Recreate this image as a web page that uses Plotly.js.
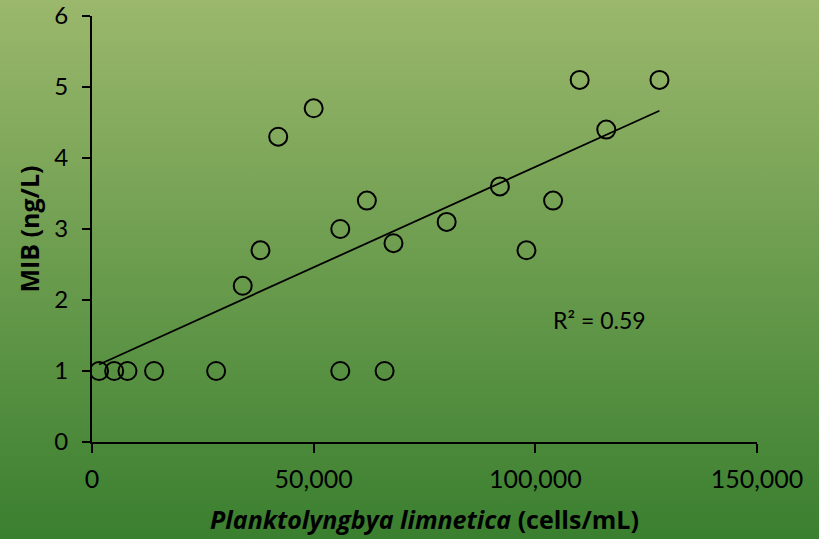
<!DOCTYPE html>
<html>
<head>
<meta charset="utf-8">
<script src="https://cdn.plot.ly/plotly-3.0.1.min.js"></script>
<style>
  html, body { margin: 0; padding: 0; }
  body { width: 819px; height: 539px; background: linear-gradient(to bottom, #9bb86c 0%, #3a7f2f 100%); }
  #chart { width: 819px; height: 539px; }
</style>
</head>
<body>
<div id="chart"></div>
<script>
// Planktolyngbya limnetica (cells/mL)
const cells = [1600, 5000, 8000, 14000, 28000, 34000, 38000, 42000, 50000, 56000, 56000, 62000, 66000, 68000, 80000, 92000, 98000, 104000, 110000, 116000, 128000];
// MIB (ng/L)
const mib = [1, 1, 1, 1, 1, 2.2, 2.7, 4.3, 4.7, 3.0, 1, 3.4, 1, 2.8, 3.1, 3.6, 2.7, 3.4, 5.1, 4.4, 5.1];
const xTickVals = [0, 50000, 100000, 150000];
const xTickText = ['0', '50,000', '100,000', '150,000'];
const yTickVals = [0, 1, 2, 3, 4, 5, 6];
const r2Label = 'R² = 0.59';

// least-squares linear trendline
const n = cells.length;
const mx = cells.reduce((a, b) => a + b, 0) / n;
const my = mib.reduce((a, b) => a + b, 0) / n;
let sxy = 0, sxx = 0;
for (let i = 0; i < n; i++) { sxy += (cells[i] - mx) * (mib[i] - my); sxx += (cells[i] - mx) ** 2; }
const slope = sxy / sxx, intercept = my - slope * mx;
const xMin = Math.min(...cells), xMax = Math.max(...cells);
const trendX = [xMin, xMax];
const trendY = trendX.map(v => intercept + slope * v);

const font = 'Lato, "Open Sans", sans-serif';
const titleFont = '"Open Sans", Lato, sans-serif';

const data = [
  {
    x: trendX, y: trendY, type: 'scatter', mode: 'lines',
    line: { color: '#000', width: 1.8 }, hoverinfo: 'skip', showlegend: false
  },
  {
    x: cells, y: mib, type: 'scatter', mode: 'markers',
    marker: { symbol: 'circle-open', size: 18, color: '#000', line: { color: '#000', width: 2 } },
    showlegend: false
  }
];

const layout = {
  width: 819, height: 539,
  margin: { l: 92, r: 62, t: 16, b: 97 },
  paper_bgcolor: 'rgba(0,0,0,0)',
  plot_bgcolor: 'rgba(0,0,0,0)',
  font: { family: font, color: '#000', size: 24 },
  showlegend: false,
  xaxis: {
    range: [0, 150000], autorange: false,
    tickvals: xTickVals, ticktext: xTickText,
    showgrid: false, zeroline: false,
    showline: true, linecolor: '#000', linewidth: 2,
    ticks: 'outside', ticklen: 9, tickwidth: 2, tickcolor: '#000',
    tickfont: { family: font, size: 25, color: '#000' },
    ticklabelstandoff: 5,
    ticklabeloverflow: 'allow',
    title: { text: '<b><i>Planktolyngbya limnetica</i> (cells/mL)</b>', font: { family: titleFont, size: 25, color: '#000', weight: 'bold' }, standoff: 19 }
  },
  yaxis: {
    range: [0, 6], autorange: false,
    tickvals: yTickVals,
    showgrid: false, zeroline: false,
    showline: true, linecolor: '#000', linewidth: 2,
    ticks: 'outside', ticklen: 8, tickwidth: 2, tickcolor: '#000',
    tickfont: { family: font, size: 24, color: '#000' },
    ticklabelstandoff: 9,
    ticklabeloverflow: 'allow',
    title: { text: '<b>MIB (ng/L)</b>', font: { family: titleFont, size: 25, color: '#000', weight: 'bold' }, standoff: 8 }
  },
  annotations: [
    {
      x: 103500, y: 1.72, xref: 'x', yref: 'y', text: r2Label, showarrow: false,
      xanchor: 'left', yanchor: 'middle', font: { family: font, size: 23, color: '#000' }
    }
  ]
};

Plotly.newPlot('chart', data, layout, { displayModeBar: false, staticPlot: true });
</script>
</body>
</html>
